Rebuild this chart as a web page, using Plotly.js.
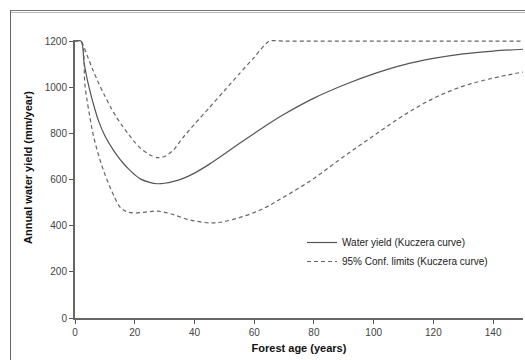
<!DOCTYPE html>
<html>
<head>
<meta charset="utf-8">
<script src="https://cdn.plot.ly/plotly-3.0.1.min.js"></script>
<style>
html,body{margin:0;padding:0;background:#fff;}
#wrap{position:relative;width:525px;height:360px;overflow:hidden;}
#chart{position:absolute;left:0;top:0;width:525px;height:360px;}
.frameTop{position:absolute;left:10px;top:10px;width:515px;height:1px;background:#777;}
.frameTop2{position:absolute;left:10px;top:12px;width:515px;height:1px;background:#bbb;}
.frameLeft{position:absolute;left:10px;top:10px;width:1px;height:350px;background:#666;}
</style>
</head>
<body>
<div id="wrap">
<div id="chart"></div>
<div class="frameTop"></div>
<div class="frameTop2"></div>
<div class="frameLeft"></div>
</div>
<script>
// Water yield (Kuczera curve)
const ageMean = [0,2,3,4,5,6,8,10,12,14,16,18,20,22,25,27.5,30,33,36,40,45,50,55,60,65,70,80,90,100,110,120,130,140,150];
const yieldMean = [1200,1200,1110,1040,985,935,850,790,745,706,673,645,621,602,588,582,584,592,604,628,667,711,756,800,843,883,953,1010,1058,1097,1125,1145,1157,1165];

// Upper 95% confidence limit
const ageUpper = [0,2,4,6,8,10,12,14,16,18,20,22,25,27.5,30,33,36,40,45,50,55,60,65,70,80,90,100,110,120,130,140,150];
const yieldUpper = [1200,1200,1140,1075,1015,962,912,868,830,795,762,735,708,695,700,728,780,840,912,985,1058,1130,1200,1200,1200,1200,1200,1200,1200,1200,1200,1200];

// Lower 95% confidence limit
const ageLower = [0,2,3.4,5,6,7.4,9,10.7,13,15,17,20,24,27.8,32,38.5,46,52,62,70,80,90,100,110,120,130,140,150];
const yieldLower = [1200,1200,1000,870,800,728,660,600,530,482,462,455,460,463,452,425,412,424,468,525,605,700,790,878,952,1005,1040,1066];

const xTicks = [0,20,40,60,80,100,120,140];
const yTicks = [0,200,400,600,800,1000,1200];

const font = "Liberation Sans, Arial, sans-serif";

const traces = [
  {x: ageMean, y: yieldMean, mode: 'lines', name: 'Water yield (Kuczera curve)',
   line: {color: '#555', width: 1.2, shape: 'spline', smoothing: 1}},
  {x: ageUpper, y: yieldUpper, mode: 'lines', name: '95% Conf. limits (Kuczera curve)',
   legendgroup: 'ci', line: {color: '#666', width: 1.2, dash: '4px,3px', shape: 'spline', smoothing: 0.6}},
  {x: ageLower, y: yieldLower, mode: 'lines', name: '95% Conf. limits (Kuczera curve)',
   legendgroup: 'ci', showlegend: false, line: {color: '#666', width: 1.2, dash: '4px,3px', shape: 'spline', smoothing: 1}}
];

const layout = {
  width: 525, height: 360,
  margin: {l: 75, r: 2, t: 40, b: 42},
  paper_bgcolor: '#fff', plot_bgcolor: '#fff',
  font: {family: font, size: 10, color: '#333'},
  showlegend: true,
  legend: {x: (302-75)/448, y: (318-228)/278, xanchor: 'left', yanchor: 'top',
           bgcolor: 'rgba(0,0,0,0)', font: {family: font, size: 10, color: '#222'}, tracegroupgap: 0},
  xaxis: {range: [0,150], tickvals: xTicks, ticktext: xTicks.map(String),
          showgrid: false, zeroline: false, showline: true, linecolor: '#666', linewidth: 1.5,
          ticks: 'outside', ticklen: 4, tickcolor: '#555', tickwidth: 1,
          tickfont: {family: font, size: 10, color: '#444'},
          title: {text: '<b>Forest age (years)</b>', font: {family: font, size: 11, color: '#111'}, standoff: 8}},
  yaxis: {range: [0,1205], tickvals: yTicks, ticktext: yTicks.map(String),
          showgrid: false, zeroline: false, showline: true, linecolor: '#666', linewidth: 2,
          ticks: 'outside', ticklen: 4, tickcolor: '#555', tickwidth: 1,
          tickfont: {family: font, size: 10, color: '#444'}},
  annotations: [
    {text: '<b>Annual water yield (mm/year)</b>', textangle: -90, xref: 'paper', yref: 'paper',
     x: (28-75)/448, y: (318-168)/278, xanchor: 'center', yanchor: 'middle', showarrow: false,
     font: {family: font, size: 11, color: '#111'}}
  ]
};

Plotly.newPlot('chart', traces, layout, {displayModeBar: false, staticPlot: true});
</script>
</body>
</html>
